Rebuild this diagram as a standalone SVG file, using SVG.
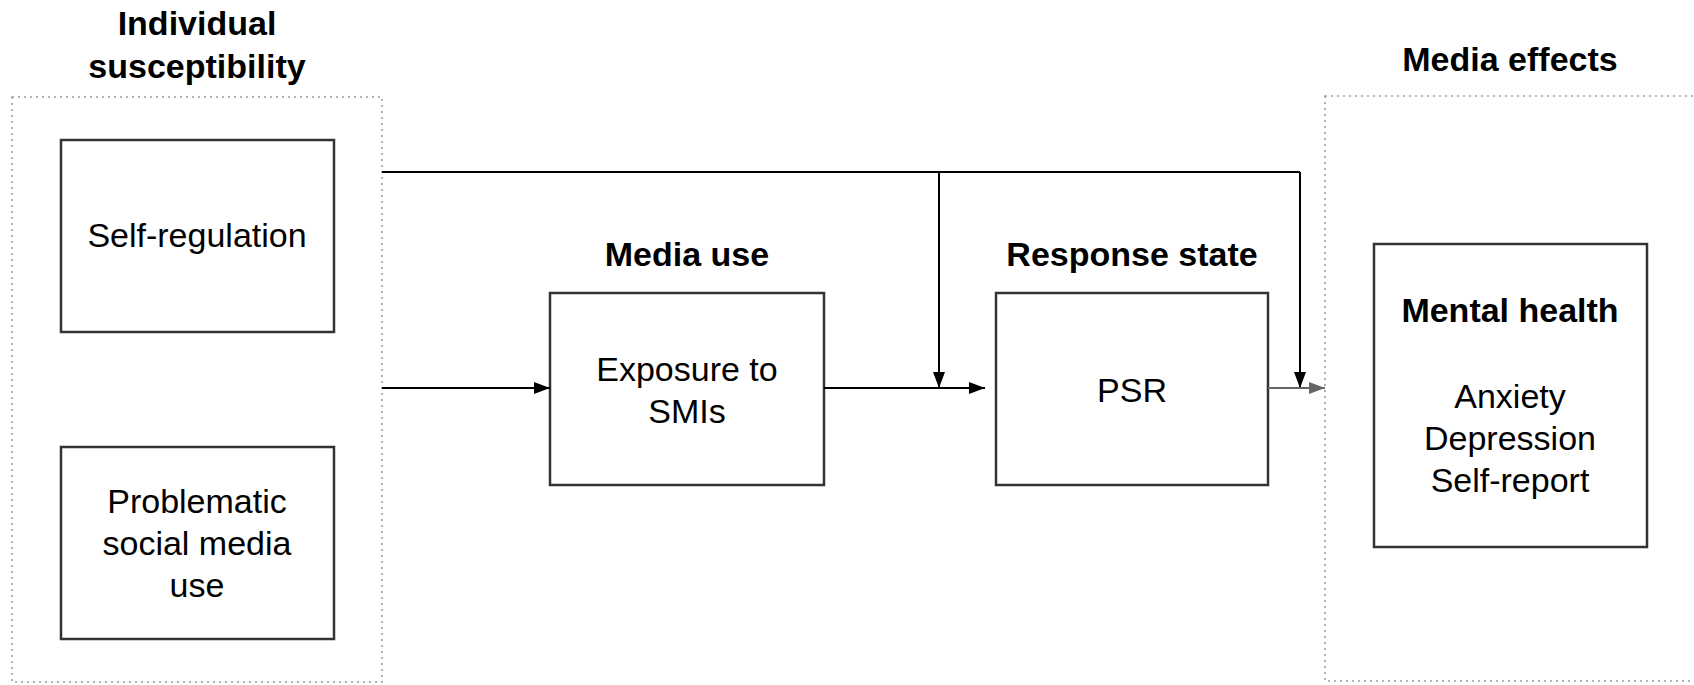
<svg xmlns="http://www.w3.org/2000/svg" width="1694" height="685" viewBox="0 0 1694 685">
<style>
text{font-family:"Liberation Sans",Arial,sans-serif;font-size:34px;fill:#000;text-anchor:middle}
.b{font-weight:bold}
.box{fill:#fff;stroke:#333;stroke-width:2.5}
.grp{fill:none;stroke:#9a9a9a;stroke-width:1.5;stroke-dasharray:2 4}
.c{fill:none;stroke:#000;stroke-width:2}
.g{fill:none;stroke:#666;stroke-width:2}
</style>
<defs>
<marker id="ah" viewBox="0 0 16 12" refX="16" refY="6" markerWidth="16" markerHeight="12" markerUnits="userSpaceOnUse" orient="auto">
<path d="M0,0 L16,6 L0,12 Z" fill="#000"/>
</marker>
<marker id="ahg" viewBox="0 0 16 12" refX="16" refY="6" markerWidth="16" markerHeight="12" markerUnits="userSpaceOnUse" orient="auto">
<path d="M0,0 L16,6 L0,12 Z" fill="#666"/>
</marker>
</defs>
<rect width="1694" height="685" fill="#fff"/>
<g id="individual-susceptibility">
<rect class="grp" x="12" y="97" width="370" height="585"/>
<text class="b" x="197" y="35">Individual</text>
<text class="b" x="197" y="78">susceptibility</text>
</g>
<g id="media-effects">
<rect class="grp" x="1325" y="96" width="400" height="585"/>
<text class="b" x="1510" y="71">Media effects</text>
</g>
<g id="self-regulation">
<rect class="box" x="61" y="140" width="273" height="192"/>
<text x="197" y="247">Self-regulation</text>
</g>
<g id="problematic-use">
<rect class="box" x="61" y="447" width="273" height="192"/>
<text x="197" y="513">Problematic</text>
<text x="197" y="555">social media</text>
<text x="197" y="597">use</text>
</g>
<g id="media-use">
<text class="b" x="687" y="266">Media use</text>
<rect class="box" x="550" y="293" width="274" height="192"/>
<text x="687" y="381">Exposure to</text>
<text x="687" y="423">SMIs</text>
</g>
<g id="response-state">
<text class="b" x="1132" y="266">Response state</text>
<rect class="box" x="996" y="293" width="272" height="192"/>
<text x="1132" y="402">PSR</text>
</g>
<g id="mental-health">
<rect class="box" x="1374" y="244" width="273" height="303"/>
<text class="b" x="1510" y="322">Mental health</text>
<text x="1510" y="408">Anxiety</text>
<text x="1510" y="450">Depression</text>
<text x="1510" y="492">Self-report</text>
</g>
<g id="connectors">
<path class="c" d="M382,172 L1300,172"/>
<path class="c" d="M939,172 L939,388" marker-end="url(#ah)"/>
<path class="c" d="M1300,172 L1300,388" marker-end="url(#ah)"/>
<path class="c" d="M382,388 L550,388" marker-end="url(#ah)"/>
<path class="c" d="M824,388 L985,388" marker-end="url(#ah)"/>
<path class="g" d="M1268,388 L1325,388" marker-end="url(#ahg)"/>
</g>
</svg>
